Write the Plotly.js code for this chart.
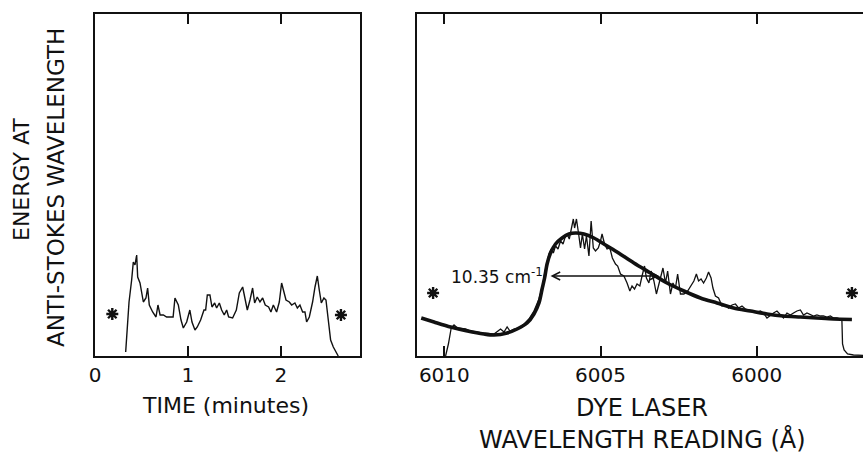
<!DOCTYPE html>
<html>
<head>
<meta charset="utf-8">
<script src="https://cdn.plot.ly/plotly-3.0.1.min.js"></script>
<style>
  html, body { margin: 0; padding: 0; background: #fff; }
  #chart { width: 863px; height: 455px; }
</style>
</head>
<body>
<div id="chart"></div>
<script>
// Anti-Stokes energy recorded versus time (minutes), arbitrary units
const timeMin = [0.33, 0.366, 0.394, 0.412, 0.43, 0.448, 0.459, 0.484, 0.52, 0.548, 0.566, 0.584, 0.62, 0.656, 0.677, 0.70, 0.735, 0.77, 0.84, 0.86, 0.896, 0.925, 0.95, 0.986, 1.02, 1.043, 1.075, 1.10, 1.136, 1.172, 1.19, 1.208, 1.236, 1.258, 1.287, 1.308, 1.337, 1.362, 1.39, 1.416, 1.437, 1.48, 1.52, 1.552, 1.588, 1.613, 1.638, 1.667, 1.695, 1.717, 1.745, 1.774, 1.803, 1.831, 1.867, 1.892, 1.918, 1.953, 1.982, 2.007, 2.032, 2.054, 2.09, 2.115, 2.15, 2.176, 2.204, 2.233, 2.258, 2.276, 2.305, 2.34, 2.366, 2.391, 2.412, 2.434, 2.462, 2.484, 2.509, 2.534, 2.563, 2.60, 2.616];
const energyTime = [4, 54, 76, 94, 91, 101, 79, 73, 54, 58, 68, 51, 44, 39, 51, 41, 41, 39, 39, 58, 51, 36, 28, 34, 46, 34, 26, 29, 36, 46, 46, 61, 61, 49, 53, 48, 53, 46, 41, 46, 39, 38, 46, 63, 69, 56, 46, 56, 68, 53, 59, 54, 58, 51, 49, 44, 51, 44, 54, 73, 63, 56, 54, 51, 53, 48, 51, 44, 44, 34, 39, 54, 69, 80, 66, 53, 58, 56, 36, 16, 9, 3, 0];

// Anti-Stokes energy versus dye laser wavelength reading (Å)
const wlReading = [6009.96, 6009.87, 6009.78, 6009.69, 6009.58, 6009.42, 6009.32, 6009.16, 6009.0, 6008.84, 6008.62, 6008.41, 6008.3, 6008.2, 6008.09, 6007.99, 6007.9, 6007.77, 6007.61, 6007.45, 6007.29, 6007.13, 6006.97, 6006.87, 6006.79, 6006.71, 6006.65, 6006.58, 6006.51, 6006.44, 6006.36, 6006.28, 6006.2, 6006.14, 6006.07, 6006.0, 6005.94, 6005.87, 6005.83, 6005.77, 6005.7, 6005.64, 6005.58, 6005.51, 6005.45, 6005.37, 6005.3, 6005.23, 6005.16, 6005.07, 6005.0, 6004.95, 6004.87, 6004.79, 6004.7, 6004.62, 6004.52, 6004.45, 6004.36, 6004.25, 6004.15, 6004.06, 6003.99, 6003.91, 6003.83, 6003.74, 6003.67, 6003.59, 6003.53, 6003.45, 6003.38, 6003.29, 6003.21, 6003.13, 6003.06, 6003.0, 6002.92, 6002.85, 6002.76, 6002.68, 6002.6, 6002.53, 6002.44, 6002.33, 6002.21, 6002.1, 6002.01, 6001.93, 6001.86, 6001.78, 6001.7, 6001.61, 6001.54, 6001.46, 6001.4, 6001.32, 6001.22, 6001.11, 6001.0, 6000.9, 6000.79, 6000.68, 6000.58, 6000.47, 6000.36, 6000.26, 6000.1, 5999.99, 5999.88, 5999.78, 5999.67, 5999.56, 5999.46, 5999.35, 5999.24, 5999.14, 5999.03, 5998.92, 5998.82, 5998.71, 5998.6, 5998.5, 5998.39, 5998.28, 5998.18, 5998.07, 5997.96, 5997.86, 5997.75, 5997.64, 5997.54, 5997.43, 5997.32, 5997.27, 5997.25, 5997.2, 5997.09, 5996.9, 5996.59];
const energyScan = [0, 12, 28, 31, 28, 27, 27, 25, 24, 23, 22, 22, 25, 27, 24, 29, 25, 27, 28, 32, 37, 45, 57, 68, 82, 92, 102, 107, 103, 110, 107, 115, 112, 118, 122, 117, 125, 137, 128, 137, 122, 108, 122, 107, 120, 100, 135, 108, 105, 108, 115, 122, 112, 107, 108, 98, 92, 90, 82, 80, 73, 65, 70, 67, 72, 70, 80, 90, 78, 73, 85, 75, 62, 72, 78, 88, 73, 85, 62, 73, 68, 82, 62, 62, 65, 70, 75, 82, 75, 77, 73, 78, 84, 78, 68, 60, 58, 50, 51, 48, 51, 52, 48, 50, 47, 46, 45, 44, 45, 43, 38, 41, 43, 45, 41, 38, 43, 41, 43, 45, 46, 41, 43, 41, 40, 41, 40, 40, 39, 40, 38, 38, 37, 35, 12, 6, 2, 1, 0.7];

// Smooth fitted line shape
const wlFit = [6010.74, 6010.33, 6009.8, 6009.26, 6008.73, 6008.41, 6007.99, 6007.67, 6007.35, 6007.13, 6006.97, 6006.87, 6006.79, 6006.71, 6006.6, 6006.44, 6006.23, 6006.01, 6005.8, 6005.53, 6005.21, 6004.89, 6004.47, 6003.93, 6003.4, 6002.87, 6002.33, 6001.8, 6001.27, 6000.74, 6000.2, 5999.67, 5999.14, 5998.6, 5998.07, 5997.54, 5996.95];
const energyFit = [38, 34, 29, 25, 22, 21, 23, 27, 33, 42, 53, 67, 78, 92, 103, 112, 118, 122, 123, 122, 118, 112, 104, 93, 83, 73, 65, 58, 53, 48, 45, 42, 40, 39, 38, 37, 36.5];

// Reference-level markers (*)
const starTime = [0.186, 2.645];
const starTimeY = [42, 41];
const starWl = [6010.36, 5996.95];
const starWlY = [63, 63];

// Linewidth marker
const linewidthLabel = '10.35 cm<sup>-1</sup>';
const arrowFrom = 6006.6, arrowTo = 6003.08, arrowLevel = 80;
const labelWl = 6008.32;

const ink = '#111';
const FONT = 'DejaVu Sans, Liberation Sans, sans-serif';

const starMarker = { symbol: 'asterisk-open', size: 10, color: ink, line: { color: ink, width: 2.4 } };

const traces = [
  { x: timeMin, y: energyTime, xaxis: 'x', yaxis: 'y', mode: 'lines',
    line: { color: ink, width: 1.4 } },
  { x: starTime, y: starTimeY, xaxis: 'x', yaxis: 'y', mode: 'markers', marker: starMarker },
  { x: wlReading, y: energyScan, xaxis: 'x2', yaxis: 'y2', mode: 'lines',
    line: { color: ink, width: 1.3 } },
  { x: wlFit, y: energyFit, xaxis: 'x2', yaxis: 'y2', mode: 'lines',
    line: { color: ink, width: 3.6, shape: 'spline', smoothing: 0.8 } },
  { x: starWl, y: starWlY, xaxis: 'x2', yaxis: 'y2', mode: 'markers', marker: starMarker }
];

const axisBase = {
  showgrid: false, zeroline: false, showline: true, linecolor: ink, linewidth: 2,
  ticks: 'inside', ticklen: 10, tickwidth: 2, tickcolor: ink,
  tickfont: { family: FONT, size: 20, color: ink }
};

const yDomain = [99 / 455, 441 / 455];

function label(text, xPx, yPx, size, angle) {
  return {
    xref: 'paper', yref: 'paper', x: xPx / 863, y: (455 - yPx) / 455, text: text,
    textangle: angle || 0, showarrow: false, xanchor: 'center', yanchor: 'middle',
    borderpad: 0, font: { family: FONT, size: size, color: ink }
  };
}

const layout = {
  width: 863, height: 455,
  margin: { l: 0, r: 0, t: 0, b: 0 },
  paper_bgcolor: '#fff', plot_bgcolor: '#fff',
  showlegend: false,
  xaxis: Object.assign({}, axisBase, {
    domain: [95 / 863, 360 / 863], range: [0, 2.85],
    tickvals: [0, 1, 2], ticktext: ['0', '1', '2'], mirror: 'ticks'
  }),
  yaxis: Object.assign({}, axisBase, {
    domain: yDomain, range: [0, 342], ticks: '', showticklabels: false, mirror: true
  }),
  xaxis2: Object.assign({}, axisBase, {
    anchor: 'y2', domain: [416.7 / 863, 1], range: [6010.885, 5996.595],
    tickvals: [6010, 6005, 6000], ticktext: ['6010', '6005', '6000'], mirror: 'ticks'
  }),
  yaxis2: Object.assign({}, axisBase, {
    anchor: 'x2', domain: yDomain, range: [0, 342], ticks: '', showticklabels: false
  }),
  annotations: [
    { xref: 'x2', yref: 'y2', x: arrowFrom, y: arrowLevel, ax: arrowTo, ay: arrowLevel,
      axref: 'x2', ayref: 'y2', text: '', showarrow: true, arrowside: 'end+start',
      arrowhead: 5, startarrowhead: 5, arrowsize: 1.2, startarrowsize: 1.2,
      arrowwidth: 1.3, arrowcolor: ink, standoff: 0, startstandoff: 0 },
    { xref: 'x2', yref: 'y2', x: labelWl, y: arrowLevel, text: linewidthLabel,
      showarrow: false, font: { family: FONT, size: 17, color: ink } },
    label('TIME (minutes)', 226, 405, 22),
    label('DYE LASER', 642, 408, 24),
    label('WAVELENGTH READING (Å)', 642, 439, 24),
    label('ENERGY AT', 21, 180, 22, -90),
    label('ANTI-STOKES WAVELENGTH', 56, 188, 23, -90)
  ]
};

Plotly.newPlot('chart', traces, layout, { staticPlot: true, displayModeBar: false });
</script>
</body>
</html>
